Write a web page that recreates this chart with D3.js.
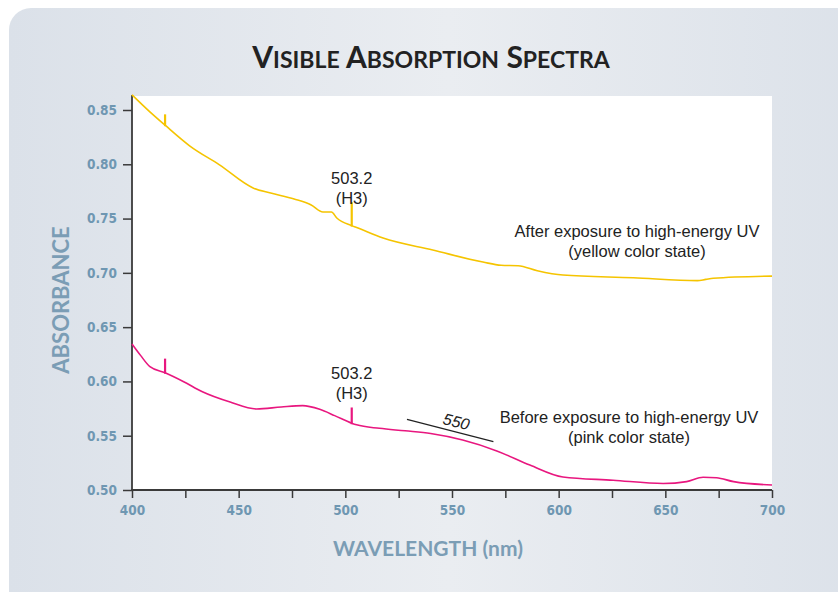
<!DOCTYPE html>
<html>
<head>
<meta charset="utf-8">
<script src="https://cdn.jsdelivr.net/npm/d3@7"></script>
<style>
  html, body { margin: 0; padding: 0; background: #ffffff; }
  svg { display: block; }
</style>
</head>
<body>
<svg id="chart" width="838" height="592"></svg>
<script>
// ---- Data ----
const titleWords = ["VISIBLE", "ABSORPTION", "SPECTRA"];
const xTickValues = [400, 450, 500, 550, 600, 650, 700];
const xMinorTicks = [400, 425, 450, 475, 500, 525, 550, 575, 600, 625, 650, 675, 700];
const yTickValues = [0.50, 0.55, 0.60, 0.65, 0.70, 0.75, 0.80, 0.85];

// After exposure (yellow) : wavelength, absorbance
const yellowWavelength = [400, 408, 415.5, 427, 441, 457, 465, 476, 484, 489.5, 493.5, 496, 503, 505, 517.7, 541, 564.5, 573, 581, 590, 602, 635, 665, 669, 672.5, 700];
const yellowAbsorbance = [0.864, 0.849, 0.836, 0.817, 0.7995, 0.778, 0.7735, 0.768, 0.7625, 0.756, 0.756, 0.7505, 0.7435, 0.742, 0.732, 0.721, 0.710, 0.707, 0.7066, 0.702, 0.698, 0.6955, 0.6928, 0.694, 0.695, 0.697];

// Before exposure (pink)
const pinkWavelength = [400, 404, 408.4, 415.5, 424, 433, 446, 458.4, 470, 480, 488, 495, 503, 505.3, 516, 528, 540, 555, 571, 586.5, 602, 625.5, 649, 660, 667.7, 674, 682, 700];
const pinkAbsorbance = [0.6345, 0.624, 0.6136, 0.608, 0.600, 0.5905, 0.581, 0.5746, 0.5765, 0.5777, 0.5743, 0.5685, 0.5615, 0.560, 0.5568, 0.5545, 0.552, 0.546, 0.536, 0.523, 0.512, 0.509, 0.506, 0.5077, 0.5117, 0.5113, 0.5077, 0.5046];

// Narrow spikes: wavelength, peak absorbance
const spikeWavelength = [415.5, 503];
const yellowSpikeTop = [0.846, 0.765];
const pinkSpikeTop = [0.621, 0.576];

const peakLabel = ["503.2", "(H3)"];
const yellowLabel = ["After exposure to high-energy UV", "(yellow color state)"];
const pinkLabel = ["Before exposure to high-energy UV", "(pink color state)"];
const guideLine = { label: "550", from: [528.9, 0.5651], to: [569.4, 0.5445] };

// ---- Layout ----
const svg = d3.select("#chart");
const W = 838, H = 592;
const plot = { left: 132, right: 772, top: 96, bottom: 490 };

const defs = svg.append("defs");
const grad = defs.append("linearGradient").attr("id", "bg").attr("x1", "0%").attr("x2", "100%").attr("y1", "0%").attr("y2", "0%");
grad.append("stop").attr("offset", "0%").attr("stop-color", "#dbe1e9");
grad.append("stop").attr("offset", "50%").attr("stop-color", "#eaedf1");
grad.append("stop").attr("offset", "100%").attr("stop-color", "#dbe1e9");

svg.append("rect").attr("x", 9).attr("y", 8).attr("width", W + 40).attr("height", H + 40)
  .attr("rx", 22).attr("ry", 22).attr("fill", "url(#bg)");

const x = d3.scaleLinear().domain([400, 700]).range([plot.left, plot.right]);
const y = d3.scaleLinear().domain([0.5, 0.85]).range([plot.bottom, 110]);

// white plot area
svg.append("rect").attr("x", plot.left).attr("y", plot.top)
  .attr("width", plot.right - plot.left).attr("height", plot.bottom - plot.top).attr("fill", "#ffffff");

// Title (small caps)
const title = svg.append("text").attr("x", 431).attr("y", 68).attr("text-anchor", "middle")
  .attr("font-family", "Lato, 'Open Sans', sans-serif").attr("font-weight", 700).attr("fill", "#222");
titleWords.forEach((w, i) => {
  title.append("tspan").attr("font-size", 30).text((i > 0 ? " " : "") + w[0]);
  title.append("tspan").attr("font-size", 23).text(w.slice(1));
});

const tickColor = "#6f97b2";
const axisColor = "#3a3a3a";
const tickFont = "'DejaVu Sans Condensed', 'Liberation Sans Narrow', sans-serif";

// Y axis
const yAxis = d3.axisLeft(y).tickValues(yTickValues).tickFormat(d3.format(".2f")).tickSize(9).tickPadding(6);
const gy = svg.append("g").attr("transform", `translate(${plot.left},0)`).call(yAxis);
gy.select(".domain").remove();
gy.selectAll(".tick line").attr("stroke", axisColor).attr("stroke-width", 1.5);
gy.selectAll(".tick text").attr("fill", tickColor).attr("font-family", tickFont).attr("font-weight", 700).attr("font-size", 13.5);
svg.append("line").attr("x1", plot.left).attr("x2", plot.left).attr("y1", plot.top - 1).attr("y2", plot.bottom)
  .attr("stroke", axisColor).attr("stroke-width", 1.8);

// X axis
const xAxisTicks = d3.axisBottom(x).tickValues(xMinorTicks).tickFormat("").tickSize(8);
const gxm = svg.append("g").attr("transform", `translate(0,${plot.bottom})`).call(xAxisTicks);
gxm.select(".domain").remove();
gxm.selectAll(".tick line").attr("stroke", axisColor).attr("stroke-width", 1.5);
const xAxis = d3.axisBottom(x).tickValues(xTickValues).tickFormat(d3.format("d")).tickSize(0).tickPadding(15);
const gx = svg.append("g").attr("transform", `translate(0,${plot.bottom})`).call(xAxis);
gx.select(".domain").remove();
gx.selectAll(".tick text").attr("fill", tickColor).attr("font-family", tickFont).attr("font-weight", 700).attr("font-size", 13.5);
svg.append("line").attr("x1", plot.left - 1).attr("x2", plot.right).attr("y1", plot.bottom).attr("y2", plot.bottom)
  .attr("stroke", axisColor).attr("stroke-width", 1.8);

// Axis titles
const axisTitleColor = "#7b9db5";
svg.append("text").attr("transform", `translate(69,300) rotate(-90)`).attr("text-anchor", "middle")
  .attr("font-family", "Lato, sans-serif").attr("font-size", 22).attr("font-weight", 700).attr("fill", axisTitleColor)
  .text("ABSORBANCE");
svg.append("text").attr("x", 428).attr("y", 556).attr("text-anchor", "middle")
  .attr("font-family", "Lato, sans-serif").attr("font-size", 21).attr("font-weight", 700).attr("fill", axisTitleColor)
  .text("WAVELENGTH (nm)");

// Lines
const line = d3.line().x(d => x(d[0])).y(d => y(d[1])).curve(d3.curveMonotoneX);
const series = [
  { w: yellowWavelength, a: yellowAbsorbance, spikes: yellowSpikeTop, color: "#f5c400" },
  { w: pinkWavelength, a: pinkAbsorbance, spikes: pinkSpikeTop, color: "#e8177f" }
];
series.forEach(s => {
  const data = s.w.map((w, i) => [w, s.a[i]]);
  svg.append("path").datum(data).attr("d", line).attr("fill", "none")
    .attr("stroke", s.color).attr("stroke-width", 1.6).attr("stroke-linejoin", "round");
  const interp = d3.scaleLinear().domain(s.w).range(s.a);
  spikeWavelength.forEach((w, i) => {
    svg.append("line").attr("x1", x(w)).attr("x2", x(w))
      .attr("y1", y(interp(w)) + 1).attr("y2", y(s.spikes[i]))
      .attr("stroke", s.color).attr("stroke-width", 2.2);
  });
});

// Annotations
const annFont = "'Liberation Sans', Arial, sans-serif";
function twoLine(cx, y1, lines, size) {
  const t = svg.append("text").attr("text-anchor", "middle").attr("font-family", annFont).attr("font-size", size).attr("fill", "#222");
  lines.forEach((s, i) => t.append("tspan").attr("x", cx).attr("y", y1 + i * 20).text(s));
}
twoLine(x(503), 184, peakLabel, 16.5);
twoLine(x(503), 379, peakLabel, 16.5);
twoLine(637, 237, yellowLabel, 16.5);
twoLine(629, 423, pinkLabel, 16.5);

svg.append("line").attr("x1", x(guideLine.from[0])).attr("y1", y(guideLine.from[1]))
  .attr("x2", x(guideLine.to[0])).attr("y2", y(guideLine.to[1])).attr("stroke", "#222").attr("stroke-width", 1.2);
svg.append("text").attr("transform", "translate(455,427) rotate(14.5)").attr("text-anchor", "middle")
  .attr("font-family", annFont).attr("font-style", "italic").attr("font-size", 16).attr("fill", "#222")
  .text(guideLine.label);
</script>
</body>
</html>
